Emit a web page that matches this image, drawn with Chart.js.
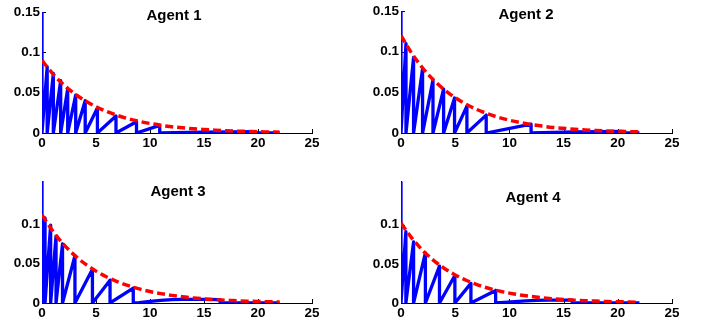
<!DOCTYPE html>
<html><head><meta charset="utf-8">
<script src="https://cdn.jsdelivr.net/npm/chart.js@4/dist/chart.umd.min.js"></script>
<style>
html,body{margin:0;padding:0;background:#fff;width:703px;height:327px;overflow:hidden;position:relative;}
canvas{position:absolute;}
.ttl{position:absolute;width:120px;text-align:center;font:bold 15px "Liberation Sans",Arial,sans-serif;line-height:15px;color:#000;white-space:nowrap;}
</style></head><body>
<canvas id="c1" width="345" height="160" style="left:0px;top:0px"></canvas>
<canvas id="c2" width="343" height="160" style="left:360px;top:0px"></canvas>
<canvas id="c3" width="345" height="160" style="left:0px;top:165px"></canvas>
<canvas id="c4" width="343" height="160" style="left:360px;top:165px"></canvas>
<div class="ttl" id="t1" style="left:114px;top:6.6px"></div>
<div class="ttl" id="t2" style="left:466px;top:5.6px"></div>
<div class="ttl" id="t3" style="left:118px;top:183.3px"></div>
<div class="ttl" id="t4" style="left:473px;top:189px"></div>
<script>
// ---- data ----
const titles = ['Agent 1', 'Agent 2', 'Agent 3', 'Agent 4'];
const xTickValues = [0, 5, 10, 15, 20, 25];
const xTickLabels = ['0', '5', '10', '15', '20', '25'];
const yTickValuesTop = [0, 0.05, 0.1, 0.15];
const yTickLabelsTop = ['0', '0.05', '0.1', '0.15'];
const yTickValuesBottom = [0, 0.05, 0.1];
const yTickLabelsBottom = ['0', '0.05', '0.1'];

// red dashed fitted curves, read at integer times 0..22
const fitX = [0,1,2,3,4,5,6,7,8,9,10,11,12,13,14,15,16,17,18,19,20,21,22];
const fit1 = [0.0900,0.0734,0.0599,0.0489,0.0399,0.0325,0.0265,0.0217,0.0177,0.0144,0.0118,0.0096,0.0078,0.0064,0.0052,0.0043,0.0035,0.0028,0.0023,0.0019,0.0015,0.0013,0.0010];
const fit2 = [0.1200,0.0979,0.0799,0.0652,0.0532,0.0434,0.0354,0.0289,0.0236,0.0192,0.0157,0.0128,0.0104,0.0085,0.0069,0.0057,0.0046,0.0038,0.0031,0.0025,0.0021,0.0017,0.0014];
const fit3 = [0.1120,0.0914,0.0745,0.0608,0.0496,0.0405,0.0330,0.0269,0.0220,0.0179,0.0146,0.0119,0.0097,0.0079,0.0065,0.0053,0.0043,0.0035,0.0029,0.0023,0.0019,0.0016,0.0013];
const fit4 = [0.1020,0.0828,0.0671,0.0544,0.0441,0.0358,0.0290,0.0235,0.0191,0.0155,0.0126,0.0102,0.0083,0.0067,0.0054,0.0044,0.0036,0.0029,0.0024,0.0019,0.0016,0.0013,0.0010];

// blue sawtooth: initial spike, tooth peak times/values, then tail points
const spikeValues = [0.16, 0.16, 0.16, 0.16];
const peakT1 = [0.48, 1.05, 1.73, 2.38, 3.12, 4.00, 5.13, 6.85, 8.75, 10.9];
const peakV1 = [0.082, 0.074, 0.065, 0.055, 0.047, 0.040, 0.031, 0.021, 0.014, 0.0095];
const tailX1 = [15, 19.8, 19.8, 22];
const tailY1 = [0.0012, 0.0018, 0, 0];

const peakT2 = [0.46, 1.16, 1.99, 2.95, 3.93, 4.94, 6.08, 7.86, 12.0];
const peakV2 = [0.110, 0.093, 0.079, 0.065, 0.054, 0.043, 0.033, 0.022, 0.0108];
const tailX2 = [16, 20.5, 20.5, 22];
const tailY2 = [0.0014, 0.0020, 0, 0];

const peakT3 = [0.28, 0.80, 1.30, 1.90, 3.05, 4.67, 6.30, 8.45];
const peakV3 = [0.108, 0.099, 0.085, 0.075, 0.060, 0.043, 0.029, 0.019];
const tailX3 = [9, 10, 11, 12, 13, 14, 15, 16.5, 16.5, 22];
const tailY3 = [0.0005, 0.0020, 0.0033, 0.0042, 0.0046, 0.0047, 0.0046, 0.0042, 0, 0];

const peakT4 = [0.45, 1.16, 2.25, 3.55, 4.97, 6.45, 8.73];
const peakV4 = [0.091, 0.078, 0.064, 0.047, 0.035, 0.025, 0.016];
const tailX4 = [9.5, 10.5, 11.5, 12.5, 13.5, 14.5, 15.8, 15.8, 22];
const tailY4 = [0.0007, 0.0018, 0.0027, 0.0033, 0.0036, 0.0037, 0.0036, 0, 0];

// ---- build ----
function buildBlue(sp, pt, pv, tx, ty) {
  const pts = [{x: 0, y: sp}, {x: 0, y: 0}];
  for (let i = 0; i < pt.length; i++) { pts.push({x: pt[i], y: pv[i]}); pts.push({x: pt[i], y: 0}); }
  for (let i = 0; i < tx.length; i++) pts.push({x: tx[i], y: ty[i]});
  return pts;
}
const tickFont = {family: '"Liberation Sans", Arial, sans-serif', size: 13.5, weight: 'bold'};
const tickMarks = {
  id: 'tickMarks',
  beforeDatasetsDraw(chart) {
    const {ctx, chartArea: a, scales: {x, y}} = chart;
    ctx.save(); ctx.strokeStyle = '#000'; ctx.lineWidth = 1; ctx.beginPath();
    x.ticks.forEach(t => { const px = Math.round(x.getPixelForValue(t.value)) + 0.5; ctx.moveTo(px, a.bottom); ctx.lineTo(px, a.bottom - 4); });
    y.ticks.forEach(t => { const py = Math.round(y.getPixelForValue(t.value)) + 0.5; ctx.moveTo(a.left, py); ctx.lineTo(a.left + 4, py); });
    ctx.stroke(); ctx.restore();
  }
};
const panels = [
  {id: 'c1', fit: fit1, blue: buildBlue(spikeValues[0], peakT1, peakV1, tailX1, tailY1), ymax: 0.15, yv: yTickValuesTop, yl: yTickLabelsTop, top: 12, right: 33, yw: 42, xh: 27},
  {id: 'c2', fit: fit2, blue: buildBlue(spikeValues[1], peakT2, peakV2, tailX2, tailY2), ymax: 0.15, yv: yTickValuesTop, yl: yTickLabelsTop, top: 11, right: 31, yw: 41, xh: 27},
  {id: 'c3', fit: fit3, blue: buildBlue(spikeValues[2], peakT3, peakV3, tailX3, tailY3), ymax: 0.155, yv: yTickValuesBottom, yl: yTickLabelsBottom, top: 16, right: 33, yw: 42, xh: 22},
  {id: 'c4', fit: fit4, blue: buildBlue(spikeValues[3], peakT4, peakV4, tailX4, tailY4), ymax: 0.155, yv: yTickValuesBottom, yl: yTickLabelsBottom, top: 16.5, right: 31, yw: 41, xh: 22}
];
panels.forEach((P, k) => {
  document.getElementById('t' + (k + 1)).textContent = titles[k];
  new Chart(document.getElementById(P.id), {
    type: 'line',
    data: {datasets: [
      {data: fitX.map((x, i) => ({x: x, y: P.fit[i]})), borderColor: '#ff0000', borderWidth: 3.5, borderDash: [8, 4], pointRadius: 0, cubicInterpolationMode: 'monotone', fill: false},
      {data: P.blue, borderColor: '#0000ff', borderWidth: 3.3, pointRadius: 0, tension: 0, borderJoinStyle: 'round', fill: false}
    ]},
    options: {
      responsive: false, animation: false, devicePixelRatio: 1,
      layout: {padding: {top: P.top, right: P.right, left: 0, bottom: 0}},
      plugins: {legend: {display: false}, tooltip: {enabled: false}},
      scales: {
        x: {type: 'linear', min: 0, max: 25,
          afterFit: s => { s.height = P.xh; },
          afterBuildTicks: s => { s.ticks = xTickValues.map(v => ({value: v})); },
          ticks: {callback: v => xTickLabels[xTickValues.indexOf(v)], font: tickFont, color: '#000', padding: 2, maxRotation: 0, autoSkip: false},
          grid: {display: false, drawTicks: false}, border: {color: '#000', width: 1}},
        y: {type: 'linear', min: 0, max: P.ymax,
          afterFit: s => { s.width = P.yw; },
          afterBuildTicks: s => { s.ticks = P.yv.map(v => ({value: v})); },
          ticks: {callback: v => P.yl[P.yv.indexOf(v)], font: tickFont, color: '#000', padding: 2, autoSkip: false},
          grid: {display: false, drawTicks: false}, border: {color: '#000', width: 1}}
      }
    },
    plugins: [tickMarks]
  });
});
</script>
</body></html>
